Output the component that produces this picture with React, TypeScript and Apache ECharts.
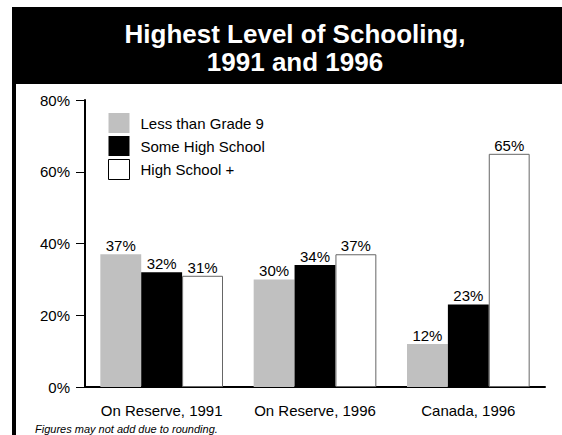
import React, { useEffect, useRef } from "react";
import * as echarts from "echarts";

const categories = ["On Reserve, 1991", "On Reserve, 1996", "Canada, 1996"];
const seriesNames = ["Less than Grade 9", "Some High School", "High School +"];
const lessThanGrade9 = [37, 30, 12];
const someHighSchool = [32, 34, 23];
const highSchoolPlus = [31, 37, 65];
const yTickValues = [0, 20, 40, 60, 80];
const titleLines = ["Highest Level of Schooling,", "1991 and 1996"];
const footnote = "Figures may not add due to rounding.";

const FONT = "'Liberation Sans', Arial, Helvetica, sans-serif";

export default function App() {
  const ref = useRef<HTMLDivElement>(null);
  useEffect(() => {
    if (!ref.current) return;
    const chart = echarts.init(ref.current, null, { renderer: "svg" });
    const label = {
      show: true,
      position: "top",
      distance: 1,
      formatter: "{c}%",
      color: "#000",
      fontSize: 15,
      fontFamily: FONT,
    };
    const styles = [
      { color: "#c0c0c0" },
      { color: "#000000" },
      { color: "#ffffff", borderColor: "#666", borderWidth: 1 },
    ];
    const datas = [lessThanGrade9, someHighSchool, highSchoolPlus];
    chart.setOption({
      animation: false,
      backgroundColor: "#fff",
      title: {
        text: titleLines.join("\n"),
        left: 290,
        top: 15,
        textAlign: "center",
        textStyle: {
          color: "#fff",
          fontSize: 26,
          fontWeight: "bold",
          fontFamily: FONT,
          lineHeight: 28,
        },
      },
      legend: {
        orient: "vertical",
        left: 103,
        top: 108,
        itemWidth: 21,
        itemHeight: 20,
        itemGap: 3,
        icon: "rect",
        textStyle: {
          fontSize: 15,
          color: "#000",
          fontFamily: FONT,
          padding: [0, 0, 0, 6],
        },
        data: seriesNames.map((n, i) => ({
          name: n,
          itemStyle:
            i === 2
              ? { color: "#fff", borderColor: "#000", borderWidth: 1 }
              : { color: styles[i].color, borderWidth: 0 },
        })),
      },
      grid: { left: 85, right: 17, top: 100, bottom: 48, containLabel: false },
      xAxis: {
        type: "category",
        data: categories,
        axisLine: { lineStyle: { color: "#000", width: 2 } },
        axisTick: {
          alignWithLabel: true,
          length: 8,
          lineStyle: { color: "#444", width: 1 },
        },
        axisLabel: {
          interval: 0,
          color: "#000",
          fontSize: 15,
          fontFamily: FONT,
          margin: 16,
        },
      },
      yAxis: {
        type: "value",
        min: yTickValues[0],
        max: yTickValues[yTickValues.length - 1],
        interval: 20,
        splitLine: { show: false },
        axisLine: { show: true, lineStyle: { color: "#000", width: 2 } },
        axisTick: { show: true, length: 9, lineStyle: { color: "#000", width: 1 } },
        axisLabel: {
          formatter: "{value}%",
          color: "#000",
          fontSize: 15,
          fontFamily: FONT,
          margin: 15,
        },
      },
      series: seriesNames.map((n, i) => ({
        name: n,
        type: "bar",
        data: datas[i],
        barGap: "0%",
        barCategoryGap: "20%",
        itemStyle: styles[i],
        label,
      })),
      graphic: [
        {
          type: "rect",
          left: 12,
          top: 7,
          shape: { width: 550, height: 77 },
          style: { fill: "#000" },
          z: -1,
        },
        {
          type: "rect",
          left: 12,
          top: 7,
          shape: { width: 4, height: 428 },
          style: { fill: "#000" },
          z: -1,
        },
        {
          type: "text",
          left: 35,
          top: 423,
          style: {
            text: footnote,
            fontSize: 11,
            fontStyle: "italic",
            fill: "#000",
            fontFamily: FONT,
          },
        },
      ],
    });
    return () => chart.dispose();
  }, []);
  return (
    <div
      ref={ref}
      style={{ position: "fixed", left: 0, top: 0, width: 562, height: 435 }}
    />
  );
}
